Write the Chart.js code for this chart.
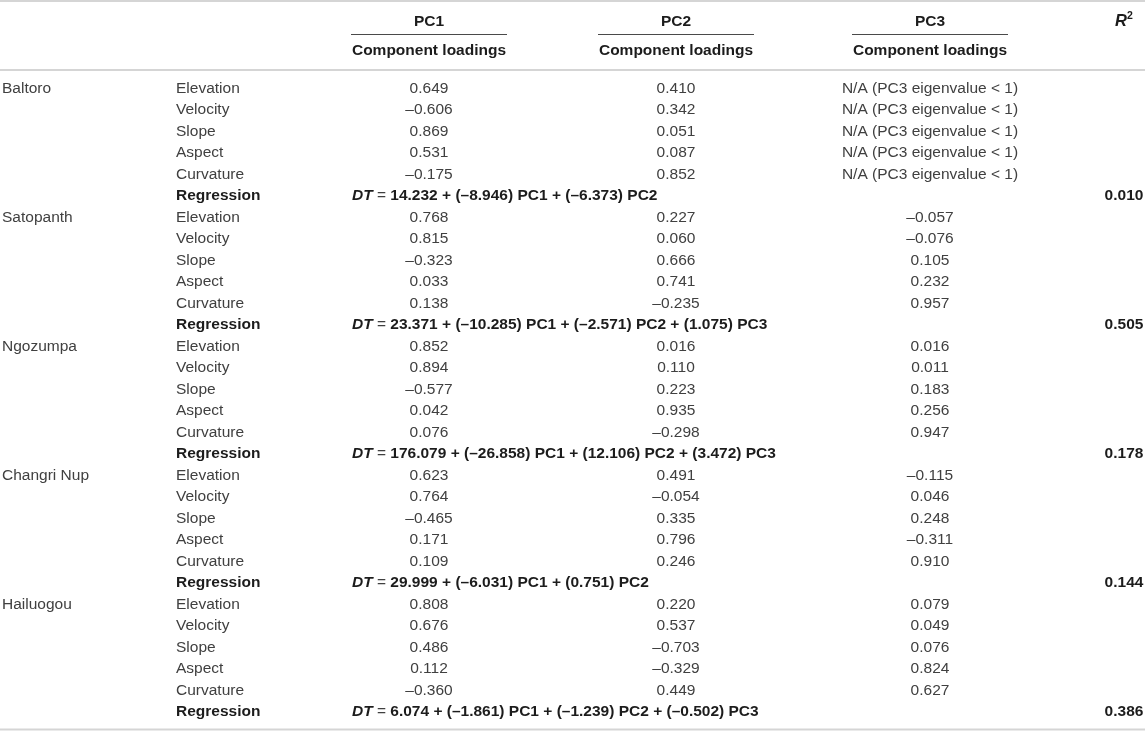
<!DOCTYPE html>
<html>
<head>
<meta charset="utf-8">
<script src="https://cdn.jsdelivr.net/npm/chart.js@4/dist/chart.umd.min.js"></script>
<style>
  html, body { margin: 0; padding: 0; background: #fff; }
  #box { width: 1145px; height: 732px; position: relative; }
  #warm { position: absolute; left: -9999px; top: 0; font-family: "Liberation Sans"; }
</style>
</head>
<body>
<div id="box"><canvas id="tabela"></canvas></div>
<div id="warm"><span>Aa</span><b>Aa</b><b><i>Aa</i></b></div>
<script>
// dados da tabela
const glaciers = ['Baltoro', 'Satopanth', 'Ngozumpa', 'Changri Nup', 'Hailuogou'];
const variables = ['Elevation', 'Velocity', 'Slope', 'Aspect', 'Curvature'];
const componentTitles = ['PC1', 'PC2', 'PC3'];
const subTitle = 'Component loadings';
const naText = 'N/A (PC3 eigenvalue < 1)';

const pc1Loadings = [
    [0.649, -0.606, 0.869, 0.531, -0.175],
    [0.768, 0.815, -0.323, 0.033, 0.138],
    [0.852, 0.894, -0.577, 0.042, 0.076],
    [0.623, 0.764, -0.465, 0.171, 0.109],
    [0.808, 0.676, 0.486, 0.112, -0.360]
];
const pc2Loadings = [
    [0.410, 0.342, 0.051, 0.087, 0.852],
    [0.227, 0.060, 0.666, 0.741, -0.235],
    [0.016, 0.110, 0.223, 0.935, -0.298],
    [0.491, -0.054, 0.335, 0.796, 0.246],
    [0.220, 0.537, -0.703, -0.329, 0.449]
];
const pc3Loadings = [
    [null, null, null, null, null],
    [-0.057, -0.076, 0.105, 0.232, 0.957],
    [0.016, 0.011, 0.183, 0.256, 0.947],
    [-0.115, 0.046, 0.248, -0.311, 0.910],
    [0.079, 0.049, 0.076, 0.824, 0.627]
];

const intercepts = [14.232, 23.371, 176.079, 29.999, 6.074];
const coefPC1 = [-8.946, -10.285, -26.858, -6.031, -1.861];
const coefPC2 = [-6.373, -2.571, 12.106, 0.751, -1.239];
const coefPC3 = [null, 1.075, 3.472, null, -0.502];
const rSquared = [0.010, 0.505, 0.178, 0.144, 0.386];

// layout (posicoes das colunas e linhas)
const COL = { glacier: 2, variable: 176, pc: [429, 676, 930], eq: 352, r2: 1124, width: 1145 };
const ROW0 = 88.5, PITCH = 21.5, H = 732;
const yMin = -ROW0 / PITCH;
const yMax = yMin + H / PITCH;
const yOf = px => (px - ROW0) / PITCH;
const HEAD_Y = yOf(21.5), SUB_Y = yOf(51), UNDER_Y = yOf(34.5);
const RULES = [yOf(1), yOf(70), yOf(729.5)];
const UNDER_HALF = 78;

const FAM = '"Liberation Sans", Arial, Helvetica, sans-serif';
const SIZE = 15.5;
const REG = { w: 'normal', s: 'normal', c: '#404040' };
const BOLD = { w: 'bold', s: 'normal', c: '#1c1c1c' };
const BI = { w: 'bold', s: 'italic', c: '#1c1c1c' };
const seg = (t, st, extra) => Object.assign({ t: t }, st, extra || {});

function fmt(v) {
    return (v < 0 ? '\u2013' : '') + Math.abs(v).toFixed(3);
}

function textDataset(points, cells, align) {
    return {
        type: 'scatter',
        data: points,
        cells: cells,
        align: align,
        pointRadius: 0,
        pointHoverRadius: 0,
        showLine: false,
        clip: false
    };
}

function ruleDataset(x0, x1, y, color, width) {
    return {
        type: 'line',
        data: [{ x: x0, y: y }, { x: x1, y: y }],
        borderColor: color,
        borderWidth: width,
        pointRadius: 0,
        pointHoverRadius: 0,
        fill: false,
        clip: false
    };
}

const datasets = [];

// linhas horizontais
RULES.forEach(y => datasets.push(ruleDataset(0, COL.width, y, '#d5d5d5', 2)));
COL.pc.forEach(x => datasets.push(ruleDataset(x - UNDER_HALF, x + UNDER_HALF, UNDER_Y, '#4a4a4a', 1)));

// cabecalho
datasets.push(textDataset(
    COL.pc.map(x => ({ x: x, y: HEAD_Y })),
    componentTitles.map(t => [seg(t, BOLD)]), 'center'));
datasets.push(textDataset(
    COL.pc.map(x => ({ x: x, y: SUB_Y })),
    COL.pc.map(() => [seg(subTitle, BOLD)]), 'center'));
datasets.push(textDataset(
    [{ x: COL.r2, y: HEAD_Y }],
    [[seg('R', BI, { size: 16.5 }), seg('2', BOLD, { size: 10.5, dy: -5 })]], 'center'));

// corpo
const gPts = [], gCells = [], vPts = [], vCells = [];
const pcPts = [[], [], []], pcCells = [[], [], []];
const eqPts = [], eqCells = [], rPts = [], rCells = [];
const loadings = [pc1Loadings, pc2Loadings, pc3Loadings];

glaciers.forEach((g, gi) => {
    const base = gi * 6;
    gPts.push({ x: COL.glacier, y: base });
    gCells.push([seg(g, REG)]);
    variables.forEach((v, k) => {
        vPts.push({ x: COL.variable, y: base + k });
        vCells.push([seg(v, REG)]);
        loadings.forEach((L, c) => {
            const val = L[gi][k];
            pcPts[c].push({ x: COL.pc[c], y: base + k });
            pcCells[c].push([seg(val === null ? naText : fmt(val), REG)]);
        });
    });
    vPts.push({ x: COL.variable, y: base + 5 });
    vCells.push([seg('Regression', BOLD)]);

    let eq = intercepts[gi].toFixed(3) + ' + (' + fmt(coefPC1[gi]) + ') PC1 + (' + fmt(coefPC2[gi]) + ') PC2';
    if (coefPC3[gi] !== null) eq += ' + (' + fmt(coefPC3[gi]) + ') PC3';
    eqPts.push({ x: COL.eq, y: base + 5 });
    eqCells.push([seg('DT', BI), seg(' = ', REG), seg(eq, BOLD)]);

    rPts.push({ x: COL.r2, y: base + 5 });
    rCells.push([seg(rSquared[gi].toFixed(3), BOLD)]);
});

datasets.push(textDataset(gPts, gCells, 'left'));
datasets.push(textDataset(vPts, vCells, 'left'));
pcPts.forEach((p, c) => datasets.push(textDataset(p, pcCells[c], 'center')));
datasets.push(textDataset(eqPts, eqCells, 'left'));
datasets.push(textDataset(rPts, rCells, 'center'));

function fontOf(s) {
    return s.s + ' ' + s.w + ' ' + (s.size || SIZE) + 'px ' + FAM;
}

const cellText = {
    id: 'cellText',
    afterDatasetsDraw(chart) {
        const ctx = chart.ctx;
        ctx.save();
        ctx.textBaseline = 'middle';
        ctx.textAlign = 'left';
        chart.data.datasets.forEach((ds, i) => {
            if (!ds.cells) return;
            const meta = chart.getDatasetMeta(i);
            meta.data.forEach((el, j) => {
                const parts = ds.cells[j];
                let total = 0;
                parts.forEach(p => { ctx.font = fontOf(p); total += ctx.measureText(p.t).width; });
                let x = el.x;
                if (ds.align === 'center') x -= total / 2;
                else if (ds.align === 'right') x -= total;
                parts.forEach(p => {
                    ctx.font = fontOf(p);
                    ctx.fillStyle = p.c;
                    ctx.fillText(p.t, x, el.y + (p.dy || 0));
                    x += ctx.measureText(p.t).width;
                });
            });
        });
        ctx.restore();
    }
};

function draw() {
    const ctx = document.getElementById('tabela');
    new Chart(ctx, {
        type: 'scatter',
        data: { datasets: datasets },
        options: {
            responsive: true,
            maintainAspectRatio: false,
            animation: false,
            events: [],
            layout: { padding: 0 },
            plugins: { legend: { display: false }, tooltip: { enabled: false } },
            scales: {
                x: { type: 'linear', min: 0, max: COL.width, display: false },
                y: { type: 'linear', min: yMin, max: yMax, reverse: true, display: false }
            }
        },
        plugins: [cellText]
    });
}

Promise.all([
    document.fonts.load('15.5px "Liberation Sans"'),
    document.fonts.load('bold 15.5px "Liberation Sans"'),
    document.fonts.load('italic bold 15.5px "Liberation Sans"')
]).then(draw, draw);
</script>
</body>
</html>
